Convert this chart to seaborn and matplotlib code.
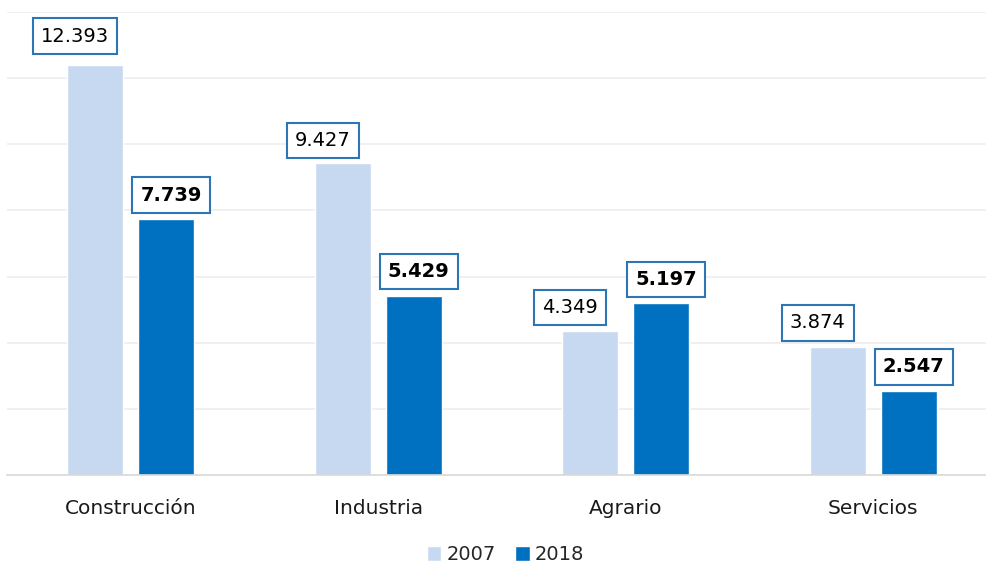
import numpy as np
import pandas as pd
import matplotlib
matplotlib.use("Agg")
import matplotlib.pyplot as plt
import seaborn as sns
from matplotlib.patches import Patch

# ---- data ----
sectores = ["Construcción", "Industria", "Agrario", "Servicios"]
anios = ["2007", "2018"]
valores_2007 = [12393, 9427, 4349, 3874]
valores_2018 = [7739, 5429, 5197, 2547]

COL_2007 = "#C6D9F0"
COL_2018 = "#0070C0"
BOX_EDGE = "#2E75B6"

df = pd.DataFrame({
    "sector": sectores * 2,
    "anio": [anios[0]] * 4 + [anios[1]] * 4,
    "valor": valores_2007 + valores_2018,
})

sns.set_theme(style="white")
plt.rcParams["font.family"] = ["DejaVu Sans"]

fig = plt.figure(figsize=(9.87, 5.65), dpi=100)
ax = fig.add_axes([0.007, 0.159, 0.993, 0.820])

sns.barplot(data=df, x="sector", y="valor", hue="anio", order=sectores,
            hue_order=anios, palette=[COL_2007, COL_2018],
            width=0.574, gap=0.212, saturation=1, legend=False, ax=ax)

ax.set_ylim(0, 14000)
ax.set_yticks(np.arange(0, 14001, 2000))
ax.yaxis.grid(True, color="#EFEFEF", linewidth=1.3)
ax.set_axisbelow(True)
ax.set_yticklabels([])
ax.tick_params(axis="y", length=0)
ax.tick_params(axis="x", length=0, pad=17, labelsize=14.5, labelcolor="#1A1A1A")
ax.set_xlabel("")
ax.set_ylabel("")
for s in ["top", "right", "left"]:
    ax.spines[s].set_visible(False)
ax.spines["bottom"].set_color("#D9D9D9")
ax.spines["bottom"].set_linewidth(1.2)
ax.set_xlim(-0.5, 3.46)

# ---- data labels (boxes placed like the original, shifted sideways) ----
dx_2007, dx_2018 = -20, 5
dy_2007 = [29, 23, 24, 24]
dy_2018 = [24, 24, 24, 24]
for cont, vals, dx, dys, bold in [
    (ax.containers[0], valores_2007, dx_2007, dy_2007, False),
    (ax.containers[1], valores_2018, dx_2018, dy_2018, True),
]:
    for bar, v, dy in zip(cont, vals, dys):
        xc = bar.get_x() + bar.get_width() / 2
        txt = f"{v:,}".replace(",", ".")
        ax.annotate(txt, (xc, bar.get_height()), xytext=(dx, dy),
                    textcoords="offset pixels", ha="center", va="center",
                    fontsize=14, fontweight="bold" if bold else "normal",
                    color="black",
                    bbox=dict(boxstyle="square,pad=0.42", facecolor="white",
                              edgecolor=BOX_EDGE, linewidth=1.5))

handles = [Patch(facecolor=COL_2007, label="2007"),
           Patch(facecolor=COL_2018, label="2018")]
fig.legend(handles=handles, loc="center", bbox_to_anchor=(0.512, 0.018),
           ncol=2, frameon=False, fontsize=14, handlelength=0.75,
           handleheight=0.75, handletextpad=0.25, columnspacing=1.0)

fig.savefig("out.png", dpi=100)
